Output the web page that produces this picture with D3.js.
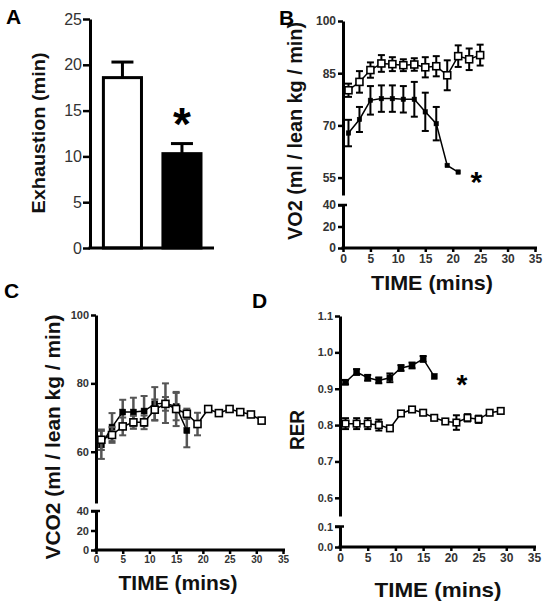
<!DOCTYPE html>
<html><head><meta charset="utf-8">
<script src="https://cdn.jsdelivr.net/npm/d3@7"></script>
<style>
html,body{margin:0;padding:0;background:#fff;}
svg{display:block;}
text{font-family:"Liberation Sans",Arial,sans-serif;}
</style></head>
<body>
<svg id="chart" width="550" height="601"></svg>
<script>
// ---------- DATA ----------
const barCategories = ["Control", "Treated"];
const barValues = [18.6, 10.3];
const barErrors = [1.7, 1.1];

const vo2OpenTime = [1,3,5,7,9,11,13,15,17,19,21,23,25];
const vo2Open = [80.1,82.5,85.9,87.8,87.6,87.3,87.5,86.7,87.0,84.4,89.9,89.0,90.2];
const vo2OpenErr = [1.9,3.1,2.2,2.4,2.0,1.7,1.8,2.9,2.9,4.3,3.1,3.1,3.0];
const vo2FilledTime = [1,3,5,7,9,11,13,15,17,19,21];
const vo2Filled = [67.8,71.7,77.2,77.7,77.7,77.5,77.5,73.9,70.5,58.5,56.6];
const vo2FilledErr = [3.8,3.6,4.1,3.8,3.8,3.8,5.0,5.5,4.8,0,0];

const vco2OpenTime = [1,3,5,7,9,11,13,15,17,19,21,23,25,27,29,31];
const vco2Open = [63.5,64.9,67.4,68.6,68.6,72.3,74.0,72.5,71.1,68.1,72.5,71.3,72.5,71.6,70.9,69.1];
const vco2OpenErr = [3.0,2.3,2.6,1.9,2.0,3.0,2.0,5.0,1.5,3.3,0,0,0,0,0,0];
const vco2FilledTime = [1,3,5,7,9,11,13,15,17];
const vco2Filled = [62.0,67.2,71.6,71.6,71.9,74.0,74.2,73.2,66.2];
const vco2FilledErr = [4.1,4.1,3.6,4.2,4.4,4.9,5.8,4.0,4.9];

const rerFilledTime = [1,3,5,7,9,11,13,15,17];
const rerFilled = [0.918,0.946,0.930,0.923,0.930,0.957,0.964,0.982,0.934];
const rerFilledErr = [0.006,0.008,0.008,0.008,0.012,0.008,0.008,0.008,0];
const rerOpenTime = [1,3,5,7,9,11,13,15,17,19,21,23,25,27,29];
const rerOpen = [0.804,0.804,0.804,0.800,0.791,0.832,0.843,0.834,0.820,0.810,0.807,0.820,0.816,0.834,0.839];
const rerOpenErr = [0.015,0.015,0.015,0.015,0.005,0.005,0.005,0.005,0.005,0.005,0.02,0.01,0.01,0,0];

const timeTicks = [0,5,10,15,20,25,30,35];
const vo2UpperTicks = [55,70,85,100];
const vo2LowerTicks = [0,20,40];
const vco2UpperTicks = [60,80,100];
const vco2LowerTicks = [0,20,40];
const rerUpperTicks = [0.6,0.7,0.8,0.9,1.0,1.1];
const rerLowerTicks = [0.0,0.1];
const barTicks = [0,5,10,15,20,25];

// ---------- DRAW ----------
const svg = d3.select("#chart");
const FONT = '"Liberation Sans",Arial,sans-serif';

function styleAxis(g, fs, weight, col) {
  g.select(".domain").attr("stroke", "#000").attr("stroke-width", 3);
  g.selectAll(".tick line").attr("stroke", "#000").attr("stroke-width", 2.5);
  g.selectAll(".tick text").attr("font-size", fs).attr("font-weight", weight)
    .attr("fill", col).attr("font-family", FONT);
}

function panelLabel(txt, x, y) {
  svg.append("text").attr("x", x).attr("y", y).text(txt)
    .attr("font-size", 21).attr("font-weight", "bold").attr("fill", "#000");
}
function yTitle(txt, x, y, len, fs) {
  svg.append("text").attr("transform", `translate(${x},${y}) rotate(-90)`)
    .attr("text-anchor", "middle").attr("font-size", fs).attr("font-weight", "bold")
    .attr("fill", "#111").attr("textLength", len).attr("lengthAdjust", "spacingAndGlyphs").text(txt);
}
function xTitle(txt, x, y, len) {
  svg.append("text").attr("x", x).attr("y", y).attr("text-anchor", "middle")
    .attr("font-size", 21).attr("font-weight", "bold").attr("fill", "#111")
    .attr("textLength", len).attr("lengthAdjust", "spacingAndGlyphs").text(txt);
}

// ---- Panel A ----
(function() {
  const x = d3.scaleBand().domain(barCategories).range([90, 214.4]).paddingInner(0.31).paddingOuter(0.2);
  const y = d3.scaleLinear().domain([0, 25]).range([248, 19]);
  const g = svg.append("g");
  g.selectAll("rect.bar").data(barCategories).enter().append("rect")
    .attr("x", d => x(d) + 1.5).attr("width", x.bandwidth() - 3)
    .attr("y", (d, i) => y(barValues[i])).attr("height", (d, i) => y(0) - y(barValues[i]))
    .attr("fill", (d, i) => i === 0 ? "#fff" : "#000")
    .attr("stroke", "#000").attr("stroke-width", 3);
  barCategories.forEach((d, i) => {
    const cx = x(d) + x.bandwidth() / 2;
    g.append("line").attr("x1", cx).attr("x2", cx).attr("y1", y(barValues[i])).attr("y2", y(barValues[i] + barErrors[i]))
      .attr("stroke", "#000").attr("stroke-width", 3);
    g.append("line").attr("x1", cx - 11).attr("x2", cx + 11)
      .attr("y1", y(barValues[i] + barErrors[i])).attr("y2", y(barValues[i] + barErrors[i]))
      .attr("stroke", "#000").attr("stroke-width", 3);
  });
  const ay = g.append("g").attr("transform", "translate(90,0)")
    .call(d3.axisLeft(y).tickValues(barTicks).tickSize(7).tickSizeOuter(0).tickPadding(1).tickFormat(d3.format("d")));
  styleAxis(ay, 16, "normal", "#333");
  g.append("line").attr("x1", 88.5).attr("x2", 214).attr("y1", y(0)).attr("y2", y(0))
    .attr("stroke", "#000").attr("stroke-width", 3);
  g.append("text").attr("x", x(barCategories[1]) + x.bandwidth() / 2).attr("y", 140)
    .attr("text-anchor", "middle").attr("font-size", 46).attr("font-weight", "bold").text("*");
  panelLabel("A", 6, 24);
  yTitle("Exhaustion (min)", 45, 133, 161, 19);
})();

// generic time panel
function timePanel(cfg) {
  const x = d3.scaleLinear().domain([0, 35]).range(cfg.xr);
  const yU = d3.scaleLinear().domain(cfg.upDom).range(cfg.upRange);
  const yL = d3.scaleLinear().domain(cfg.loDom).range(cfg.loRange);
  const g = svg.append("g");
  const x0 = cfg.xr[0];
  const gu = g.append("g").attr("transform", `translate(${x0},0)`)
    .call(d3.axisLeft(yU).tickValues(cfg.upTicks).tickSize(5).tickSizeOuter(0).tickPadding(2).tickFormat(cfg.fmt));
  styleAxis(gu, cfg.tfs, "bold", "#333");
  const gl = g.append("g").attr("transform", `translate(${x0},0)`)
    .call(d3.axisLeft(yL).tickValues(cfg.loTicks).tickSize(5).tickSizeOuter(0).tickPadding(2).tickFormat(cfg.fmt));
  styleAxis(gl, cfg.tfs, "bold", "#333");
  g.append("line").attr("x1", x0 - 5).attr("x2", x0 + 4).attr("y1", cfg.loRange[1]).attr("y2", cfg.loRange[1])
    .attr("stroke", "#000").attr("stroke-width", 2.5);
  const gx = g.append("g").attr("transform", `translate(0,${cfg.loRange[0]})`)
    .call(d3.axisBottom(x).tickValues(timeTicks).tickSize(4).tickSizeOuter(0).tickPadding(2));
  styleAxis(gx, cfg.xfs, "bold", "#333");
  gx.select(".domain").attr("d", `M${x0 - 1.5},0H${cfg.xr[1] + 2}`);

  function series(times, vals, errs, open, errCol) {
    const pts = times.map((t, i) => ({t, v: vals[i], e: errs[i]}));
    const line = d3.line().x(d => x(d.t)).y(d => yU(d.v));
    g.append("path").datum(pts).attr("d", line).attr("fill", "none")
      .attr("stroke", "#000").attr("stroke-width", 1.5);
    const eb = g.append("g");
    pts.filter(d => d.e > 0).forEach(d => {
      const cx = x(d.t);
      eb.append("line").attr("x1", cx).attr("x2", cx).attr("y1", yU(d.v - d.e)).attr("y2", yU(d.v + d.e))
        .attr("stroke", errCol).attr("stroke-width", cfg.errW);
      [d.v - d.e, d.v + d.e].forEach(v => eb.append("line").attr("x1", cx - 3.5).attr("x2", cx + 3.5)
        .attr("y1", yU(v)).attr("y2", yU(v)).attr("stroke", errCol).attr("stroke-width", 2));
    });
    const s = open ? cfg.openSize : cfg.filledSize;
    g.selectAll(null).data(pts).enter().append("rect")
      .attr("x", d => x(d.t) - s / 2).attr("y", d => yU(d.v) - s / 2)
      .attr("width", s).attr("height", s)
      .attr("fill", open ? "#fff" : "#000").attr("stroke", "#000").attr("stroke-width", open ? 1.6 : 0.5);
  }
  cfg.series.forEach(s => series(s.t, s.v, s.e, s.open, cfg.errCol));
  if (cfg.star) g.append("text").attr("x", x(cfg.star[0])).attr("y", yU(cfg.star[1]) + cfg.starDy)
    .attr("text-anchor", "middle").attr("font-size", cfg.starSize).attr("font-weight", "bold").text("*");
  return g;
}

// ---- Panel B ----
timePanel({
  xr: [343, 535], upDom: [50, 100], upRange: [195, 21], loDom: [0, 40], loRange: [248, 205],
  upTicks: vo2UpperTicks, loTicks: vo2LowerTicks, fmt: d3.format("d"), tfs: 12, xfs: 12,
  openSize: 7, filledSize: 4.5, errCol: "#000", errW: 2,
  series: [
    {t: vo2FilledTime, v: vo2Filled, e: vo2FilledErr, open: false},
    {t: vo2OpenTime, v: vo2Open, e: vo2OpenErr, open: true}
  ],
  star: [24.3, 55.5], starDy: 16, starSize: 30
});
panelLabel("B", 279, 25);
yTitle("VO2 (ml / lean kg / min)", 302, 131, 218, 20);
xTitle("TIME (mins)", 432, 290, 122);

// ---- Panel C ----
timePanel({
  xr: [96, 283], upDom: [45, 100], upRange: [503, 315], loDom: [0, 40], loRange: [550, 511],
  upTicks: vco2UpperTicks, loTicks: vco2LowerTicks, fmt: d3.format("d"), tfs: 11, xfs: 10,
  openSize: 7, filledSize: 6, errCol: "#555", errW: 2.5,
  series: [
    {t: vco2FilledTime, v: vco2Filled, e: vco2FilledErr, open: false},
    {t: vco2OpenTime, v: vco2Open, e: vco2OpenErr, open: true}
  ]
});
panelLabel("C", 4, 298);
yTitle("VCO2 (ml / lean kg / min)", 60, 437, 245, 20);
xTitle("TIME (mins)", 178, 590, 119);

// ---- Panel D ----
timePanel({
  xr: [340, 534], upDom: [0.55, 1.1], upRange: [516, 316], loDom: [0, 0.1], loRange: [547, 526.5],
  upTicks: rerUpperTicks, loTicks: rerLowerTicks, fmt: d3.format(".1f"), tfs: 11, xfs: 12,
  openSize: 6.5, filledSize: 6, errCol: "#000", errW: 2,
  series: [
    {t: rerFilledTime, v: rerFilled, e: rerFilledErr, open: false},
    {t: rerOpenTime, v: rerOpen, e: rerOpenErr, open: true}
  ],
  star: [22, 0.93], starDy: 16, starSize: 28
});
panelLabel("D", 252, 308);
yTitle("RER", 304, 430, 40, 20);
xTitle("TIME (mins)", 438, 597, 127);
</script>
</body></html>
